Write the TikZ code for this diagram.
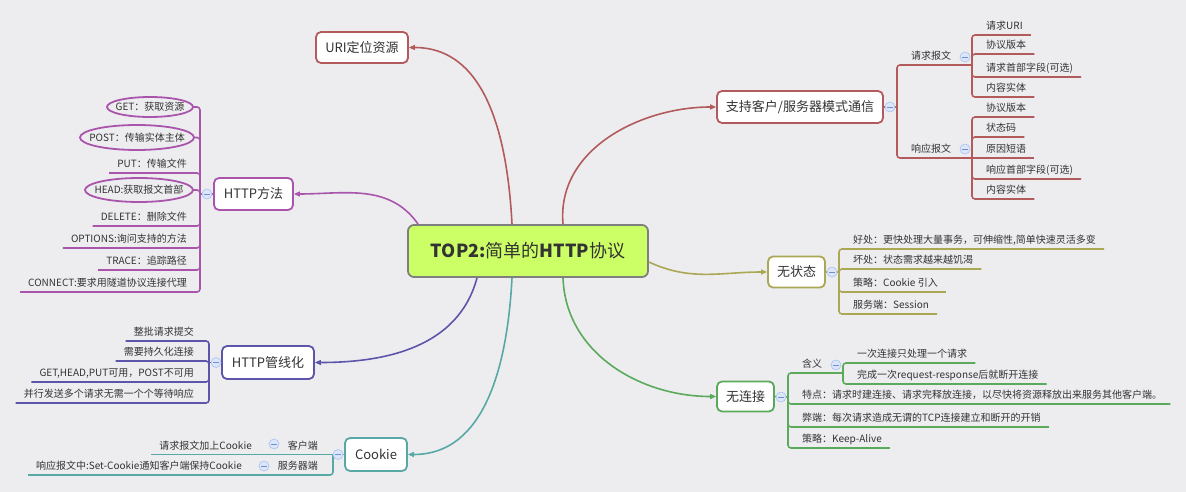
\documentclass[tikz,border=0pt]{standalone}
\usepackage{fontspec}
\setmainfont{Noto Sans CJK SC}
\usetikzlibrary{arrows.meta}

\definecolor{paper}{HTML}{EDEDF0}
\definecolor{ink}{HTML}{333333}
\definecolor{rootgreen}{HTML}{CCFF66}
\definecolor{rootline}{HTML}{7F7F7F}
\definecolor{brred}{HTML}{B35A5C}
\definecolor{brpurple}{HTML}{A955AB}
\definecolor{brindigo}{HTML}{5D55AA}
\definecolor{brteal}{HTML}{58A9A6}
\definecolor{brolive}{HTML}{ABA855}
\definecolor{brgreen}{HTML}{5BAA5B}
\definecolor{foldfill}{HTML}{DCE6FA}
\definecolor{foldline}{HTML}{A9C1EE}
\definecolor{foldminus}{HTML}{6F8FD6}

\tikzset{
  rootbox/.style={draw=rootline, fill=rootgreen, line width=1.8pt, rounded corners=6pt,
    minimum width=240pt, minimum height=52pt, text=ink, font=\fontsize{18}{21}\selectfont},
  topic/.style={draw=#1, fill=white, line width=1.8pt, rounded corners=5pt,
    text=ink, font=\fontsize{13}{15}\selectfont, inner sep=0pt},
  leaf/.style={text=ink, font=\fontsize{10}{12}\selectfont, inner xsep=8pt,
    inner ysep=0pt, text height=8pt, text depth=5pt},
  ringtext/.style={text=ink, font=\fontsize{10}{12}\selectfont, inner sep=0pt},
  twig/.style={draw=#1, line width=1.6pt, rounded corners=3pt},
  link/.style={draw=#1, line width=1.6pt, -{Triangle[length=6pt,width=5pt]}},
  ring/.style={draw=brpurple, line width=1.8pt},
  fold/.style={circle, draw=foldline, fill=foldfill, line width=0.6pt,
    minimum size=10pt, inner sep=0pt,
    path picture={\draw[foldminus, line width=0.7pt]
      ([xshift=-2.6pt]path picture bounding box.center) --
      ([xshift=2.6pt]path picture bounding box.center);}},
}

\begin{document}
\begin{tikzpicture}[x=1pt, y=1pt]
  \fill[paper] (0,0) rectangle (1186,-492);
  \useasboundingbox (0,0) rectangle (1186,-492);

  % centre and first level
  \node[rootbox] (root) at (528,-251) {\textbf{TOP2:}简单的\textbf{HTTP}协议};
  \node[topic=brred, minimum width=92pt, minimum height=31pt] (uri) at (362,-47.5) {URI定位资源};
  \node[topic=brpurple, minimum width=79pt, minimum height=32pt] (methods) at (253.5,-194) {HTTP方法};
  \node[topic=brindigo, minimum width=92pt, minimum height=33pt] (pipe) at (268,-362.5) {HTTP管线化};
  \node[topic=brteal, minimum width=62pt, minimum height=33pt] (cookie) at (376,-454.5) {Cookie};
  \node[topic=brred, minimum width=166pt, minimum height=32pt] (cs) at (800,-107) {支持客户/服务器模式通信};
  \node[topic=brolive, minimum width=57pt, minimum height=31pt] (stateless) at (796.5,-272) {无状态};
  \node[topic=brgreen, minimum width=57pt, minimum height=30pt] (connless) at (745.5,-396.5) {无连接};

  \draw[link=brred] ([xshift=-16pt]root.north) to[out=93, in=0] (uri.east);
  \draw[link=brpurple] ([xshift=11pt]root.north west) to[out=125, in=0] (methods.east);
  \draw[link=brindigo] ([xshift=-51pt]root.south) to[out=-105, in=0] (pipe.east);
  \draw[link=brteal] ([xshift=-16pt]root.south) to[out=-93, in=0] (cookie.east);
  \draw[link=brred] ([xshift=35pt]root.north) to[out=95, in=180] (cs.west);
  \draw[link=brolive] ([yshift=-11pt]root.east) to[out=-25, in=180] (stateless.west);
  \draw[link=brgreen] ([xshift=35pt]root.south) to[out=-88, in=180] (connless.west);

  % HTTP方法
  \coordinate (mj) at (200,-194);
  \draw[twig=brpurple] (mj) -- (methods.west);
  \foreach \cx/\cy/\rx/\ry/\txt [count=\i] in {150/107/43/10/GET：获取资源, 137/137.5/57/12.5/POST：传输实体主体, 139/190/54/12/HEAD:获取报文首部} {
    \node[ringtext] (r\i) at (\cx,-\cy) {\txt};
    \draw[ring] (r\i.center) ellipse [x radius=\rx, y radius=\ry];
    \draw[twig=brpurple] (r\i.center) ++(\rx,0) -| (mj);
  }
  \foreach \uy/\txt [count=\i] in {173/PUT：传输文件, 226/DELETE：删除文件, 248/OPTIONS:询问支持的方法, 270/TRACE：追踪路径, 292/CONNECT:要求用隧道协议连接代理} {
    \node[leaf, anchor=south east] (m\i) at (195,-\uy) {\txt};
    \draw[twig=brpurple] (m\i.south west) -| (mj);
  }
  \node[fold] (mfold) at (207,-194) {};

  % HTTP管线化
  \coordinate (pj) at (209,-362.5);
  \draw[twig=brindigo] (pj) -- (pipe.west);
  \foreach \uy/\txt [count=\i] in {341/整批请求提交, 361/需要持久化连接, {382/GET,HEAD,PUT可用，POST不可用}, 403/并行发送多个请求无需一个个等待响应} {
    \node[leaf, anchor=south east] (p\i) at (202,-\uy) {\txt};
    \draw[twig=brindigo] (p\i.south west) -| (pj);
  }
  \node[fold] (pfold) at (216,-362.5) {};

  % Cookie
  \coordinate (kj) at (333,-454.5);
  \coordinate (clientj) at (267,-454.5);
  \coordinate (serverj) at (257,-475);
  \draw[twig=brteal] (kj) -- (cookie.west);
  \draw[twig=brteal] (kj) -- (clientj);
  \draw[twig=brteal] (kj) |- (serverj);
  \node[leaf, anchor=south east] (client) at (326,-454.5) {客户端};
  \node[leaf, anchor=south east] (server) at (326,-475) {服务器端};
  \node[leaf, anchor=south east] (client1) at (260,-454.5) {请求报文加上Cookie};
  \node[leaf, anchor=south east] (server1) at (250,-475) {响应报文中:Set-Cookie通知客户端保持Cookie};
  \draw[twig=brteal] (client1.south west) -- (clientj);
  \draw[twig=brteal] (server1.south west) -- (serverj);
  \node[fold] (kfold) at (338,-454.5) {};
  \node[fold] (clientfold) at (274,-444) {};
  \node[fold] (serverfold) at (264,-466) {};

  % 支持客户/服务器模式通信
  \coordinate (sj) at (897,-107);
  \coordinate (reqj) at (972,-65);
  \coordinate (resj) at (972,-158);
  \draw[twig=brred] (cs.east) -- (sj);
  \draw[twig=brred] (sj) |- (reqj);
  \draw[twig=brred] (sj) |- (resj);
  \node[leaf, anchor=south west] (reqmsg) at (903,-65) {请求报文};
  \node[leaf, anchor=south west] (resmsg) at (903,-158) {响应报文};
  \foreach \uy/\txt [count=\i] in {35/请求URI, 54/协议版本, 77/请求首部字段(可选), 97/内容实体} {
    \node[leaf, anchor=south west] (q\i) at (978,-\uy) {\txt};
    \draw[twig=brred] (reqj) |- (q\i.south east);
  }
  \foreach \uy/\txt [count=\i] in {117/协议版本, 137/状态码, 179/响应首部字段(可选), 199/内容实体} {
    \node[leaf, anchor=south west] (s\i) at (978,-\uy) {\txt};
    \draw[twig=brred] (resj) |- (s\i.south east);
  }
  \node[leaf, anchor=south west] (reason) at (978,-158) {原因短语};
  \draw[twig=brred] (resj) -- (reason.south east);
  \node[fold] (sfold) at (890,-107) {};
  \node[fold] (reqfold) at (965,-57) {};
  \node[fold] (resfold) at (965,-149) {};

  % 无状态
  \coordinate (tj) at (839,-272);
  \draw[twig=brolive] (stateless.east) -- (tj);
  \foreach \uy/\txt [count=\i] in {{249/好处：更快处理大量事务，可伸缩性,简单快速灵活多变}, 269/坏处：状态需求越来越饥渴, 292/策略：Cookie 引入, 314/服务端：Session} {
    \node[leaf, anchor=south west] (t\i) at (845,-\uy) {\txt};
    \draw[twig=brolive] (tj) |- (t\i.south east);
  }
  \node[fold] (tfold) at (832,-272) {};

  % 无连接
  \coordinate (nj) at (788,-397);
  \coordinate (meaningj) at (843,-373);
  \draw[twig=brgreen] (connless.east) -- (nj);
  \draw[twig=brgreen] (nj) |- (meaningj);
  \node[leaf, anchor=south west] (meaning) at (794,-373) {含义};
  \foreach \uy/\txt [count=\i] in {363/一次连接只处理一个请求, 384/完成一次request-response后就断开连接} {
    \node[leaf, anchor=south west] (h\i) at (849,-\uy) {\txt};
    \draw[twig=brgreen] (meaningj) |- (h\i.south east);
  }
  \foreach \uy/\txt [count=\i] in {404/特点：请求时建连接、请求完释放连接，以尽快将资源释放出来服务其他客户端。, 427/弊端：每次请求造成无谓的TCP连接建立和断开的开销, 448/策略：Keep-Alive} {
    \node[leaf, anchor=south west] (n\i) at (794,-\uy) {\txt};
    \draw[twig=brgreen] (nj) |- (n\i.south east);
  }
  \node[fold] (nfold) at (781,-397) {};
  \node[fold] (meaningfold) at (836,-365) {};
\end{tikzpicture}
\end{document}
